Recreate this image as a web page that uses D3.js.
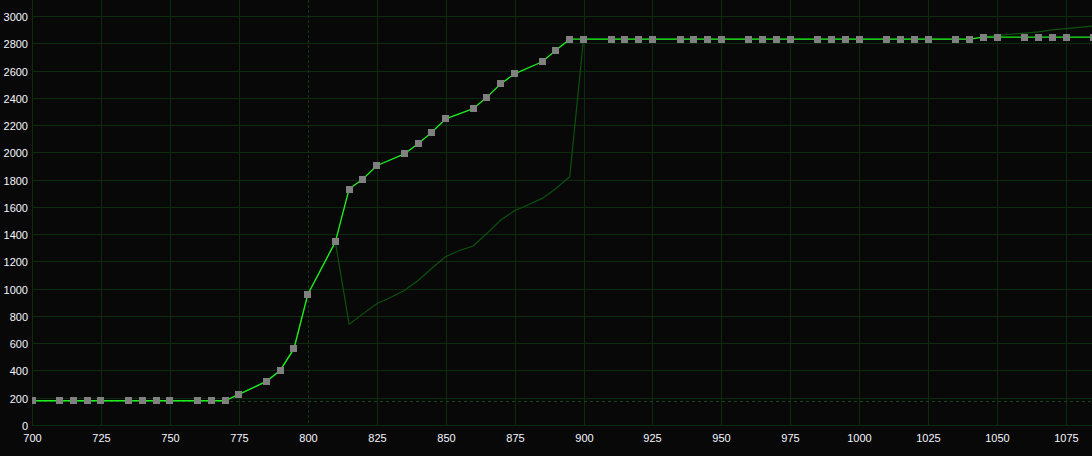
<!DOCTYPE html>
<html>
<head>
<meta charset="utf-8">
<script src="https://cdn.jsdelivr.net/npm/d3@7"></script>
<style>
html,body{margin:0;padding:0;background:#080808;}
svg{display:block;}
</style>
</head>
<body>
<svg id="chart" width="1092" height="456"></svg>
<script>
// ---- data ----
const xTicks = [700,725,750,775,800,825,850,875,900,925,950,975,1000,1025,1050,1075];
const yTicks = [0,200,400,600,800,1000,1200,1400,1600,1800,2000,2200,2400,2600,2800,3000];

// bright series (points with square markers)
const mainX = [700,710,715,720,725,735,740,745,750,760,765,770,775,785,790,795,800,810,815,820,825,835,840,845,850,860,865,870,875,885,890,895,900,910,915,920,925,935,940,945,950,960,965,970,975,985,990,995,1000,1010,1015,1020,1025,1035,1040,1045,1050,1060,1065,1070,1075,1085];
const mainY = [178,178,178,178,178,178,178,178,178,178,178,178,224,320,400,560,957,1343,1731,1804,1902,1988,2063,2148,2246,2320,2405,2503,2576,2664,2749,2830,2830,2830,2830,2830,2830,2830,2830,2830,2830,2830,2830,2830,2830,2830,2830,2830,2830,2830,2830,2830,2830,2830,2830,2845,2845,2845,2845,2845,2845,2845];

// dark series
const altX = [700,770,775,785,790,795,800,810,815,820,825,830,835,840,845,850,855,860,865,870,875,880,885,890,895,900,1040,1045,1050,1060,1065,1070,1075,1085];
const altY = [178,178,224,320,400,560,957,1343,740,815,890,935,986,1060,1150,1235,1280,1313,1406,1504,1572,1615,1662,1735,1821,2830,2830,2845,2858,2875,2884,2898,2908,2927];

const baseline = 178;   // dashed reference level
const markerX = 800;    // dashed vertical reference

// ---- layout ----
const W = 1092, H = 456;
const pLeft = 32, pRight = 1092, pTop = 0, pBottom = 425;
const x = d3.scaleLinear().domain([700, 1084.4]).range([32, 1092]);
const y = d3.scaleLinear().domain([0, 3000]).range([425, 16]);
const px = v => Math.round(x(v)) + 0.5;
const py = v => Math.round(y(v)) + 0.5;

const svg = d3.select("#chart");
svg.append("rect").attr("width", W).attr("height", H).attr("fill", "#080808");

svg.append("defs").append("clipPath").attr("id", "clip")
  .append("rect").attr("x", pLeft).attr("y", pTop).attr("width", pRight - pLeft).attr("height", pBottom - pTop + 1);

const gridColor = "#0d2b0d";
const g = svg.append("g");

// horizontal grid
g.selectAll("line.h").data(yTicks).join("line")
  .attr("x1", pLeft).attr("x2", pRight)
  .attr("y1", d => py(d)).attr("y2", d => py(d))
  .attr("stroke", gridColor).attr("stroke-width", 1);

// vertical grid
g.selectAll("line.v").data(xTicks.filter(d => d !== markerX)).join("line")
  .attr("x1", d => px(d)).attr("x2", d => px(d))
  .attr("y1", pTop).attr("y2", py(0))
  .attr("stroke", gridColor).attr("stroke-width", 1);

// dashed reference lines
g.append("line")
  .attr("x1", pLeft).attr("x2", pRight)
  .attr("y1", py(baseline)).attr("y2", py(baseline))
  .attr("stroke", "#164816").attr("stroke-width", 1).attr("stroke-dasharray", "3,3");
g.append("line")
  .attr("x1", px(markerX)).attr("x2", px(markerX))
  .attr("y1", pTop).attr("y2", py(0))
  .attr("stroke", "#113a11").attr("stroke-width", 1).attr("stroke-dasharray", "3,2");

// axis labels
const labelColor = "#f4f6ff";
svg.selectAll("text.y").data(yTicks).join("text")
  .attr("x", 28).attr("y", d => py(d))
  .attr("text-anchor", "end").attr("dominant-baseline", "central")
  .attr("fill", labelColor)
  .attr("font-family", "Liberation Sans, Arial, sans-serif").attr("font-size", 11)
  .text(d => d);

svg.selectAll("text.x").data(xTicks).join("text")
  .attr("x", d => px(d)).attr("y", 438)
  .attr("text-anchor", "middle").attr("dominant-baseline", "central")
  .attr("fill", labelColor)
  .attr("font-family", "Liberation Sans, Arial, sans-serif").attr("font-size", 11)
  .text(d => d);

// series
const plot = svg.append("g").attr("clip-path", "url(#clip)");
const line = d3.line().x(d => x(d[0])).y(d => y(d[1]));

const altData = altX.map((v, i) => [v, altY[i]]);
const mainData = mainX.map((v, i) => [v, mainY[i]]);

plot.append("path").datum(altData).attr("d", line)
  .attr("fill", "none").attr("stroke", "#0c520c").attr("stroke-width", 1.2);

plot.append("path").datum(mainData).attr("d", line)
  .attr("fill", "none").attr("stroke", "#1cf01c").attr("stroke-width", 1.3);

const ms = 7;
plot.selectAll("rect.m").data(mainData).join("rect")
  .attr("x", d => Math.round(x(d[0]) - ms / 2)).attr("y", d => Math.round(y(d[1]) - ms / 2))
  .attr("width", ms).attr("height", ms)
  .attr("fill", "#808080");
</script>
</body>
</html>
